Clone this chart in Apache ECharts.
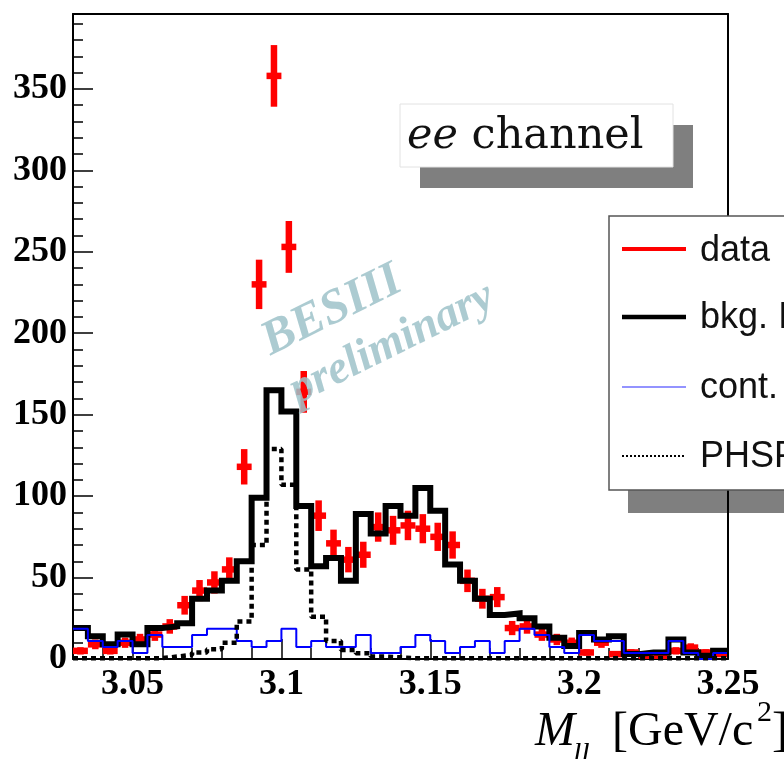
<!DOCTYPE html>
<html>
<head>
<meta charset="utf-8">
<script src="https://cdn.jsdelivr.net/npm/echarts@6/dist/echarts.min.js"></script>
<style>
  html, body { margin: 0; padding: 0; background: #ffffff; }
  #chart { width: 784px; height: 759px; }
</style>
</head>
<body>
<div id="chart"></div>
<script>
// Dilepton invariant mass, ee channel: 44 bins of 5 MeV/c^2 between 3.03 and 3.25 GeV/c^2
const binLow = 3.03;
const binWidth = 0.005;

// Observed events per bin
const dataCounts = [5, 9, 5, 10, 12, 15, 20, 33, 42, 47, 55, 118, 230, 358, 253, 164, 88, 71, 61, 64, 81, 79,
                    82, 80, 75, 70, 48, 37, 38, 19, 20, 15, 12, 10, 4, 10, 3, 4, 1, 1, 5, 7, 4, 3];
// Background from inclusive MC
const bkgMC = [19, 14, 9, 15, 9, 19, 20, 22, 37, 42, 48, 60, 99, 165, 152, 94, 57, 62, 48, 89, 77, 94,
               88, 105, 91, 58, 48, 37, 27, 28, 25, 20, 13, 8, 16, 12, 14, 3, 4, 4, 12, 4, 2, 5];
// Continuum data, scaled
const contData = [18.5, 11.1, 7.4, 11.1, 3.7, 14.8, 7.4, 7.4, 14.8, 18.5, 18.5, 11.1, 7.4, 11.1, 18.5, 7.4,
                  11.1, 7.4, 7.4, 14.8, 3.7, 3.7, 7.4, 14.8, 11.1, 3.7, 7.4, 11.1, 3.7, 11.1, 18.5, 14.8,
                  7.4, 3.7, 14.8, 11.1, 11.1, 3.7, 3.7, 3.7, 11.1, 3.7, 0, 3.7];
// Phase-space signal MC
const phspMC = [0.5, 0.5, 0.5, 0.5, 0.5, 0.5, 1.5, 2.5, 4, 6, 10, 23, 70, 129, 107, 55, 26, 11, 5.5, 3.5,
                1.5, 1, 0.5, 0.5, 0.5, 0.5, 0.5, 0.5, 0.5, 0.5, 0.5, 0.5, 0.5, 0.5, 0.5, 0.5, 0.5, 0.5,
                0.5, 0.5, 0.5, 0.5, 0.5, 0.5];

// Axis ticks and labels
const xMajorTicks = [3.05, 3.1, 3.15, 3.2, 3.25];
const xMinorTicks = [3.04, 3.06, 3.07, 3.08, 3.09, 3.11, 3.12, 3.13, 3.14, 3.16, 3.17, 3.18, 3.19,
                     3.21, 3.22, 3.23, 3.24];
const yMajorTicks = [0, 50, 100, 150, 200, 250, 300, 350];
const yMinorTicks = [10, 20, 30, 40, 60, 70, 80, 90, 110, 120, 130, 140, 160, 170, 180, 190, 210, 220,
                     230, 240, 260, 270, 280, 290, 310, 320, 330, 340, 360, 370, 380, 390];

const legendLabels = ['data', 'bkg. Inclusive MC', 'cont.', 'PHSP MC'];

// Step-histogram points: left edge of every bin, plus the closing right edge
function histPoints(values) {
  const pts = values.map(function (v, i) { return [binLow + binWidth * i, v]; });
  pts.push([binLow + binWidth * values.length, values[values.length - 1]]);
  return pts;
}
const dataPoints = dataCounts.map(function (n, i) { return [binLow + binWidth * (i + 0.5), n]; });

const chart = echarts.init(document.getElementById('chart'), null, { renderer: 'canvas' });

const frameLine = { show: true, onZero: false, lineStyle: { color: '#000', width: 2 } };
const tickFont = { color: '#000', fontFamily: 'Liberation Serif', fontWeight: 'bold', fontSize: 36 };

const option = {
  animation: false,
  backgroundColor: '#ffffff',
  grid: { left: 73, right: 56, top: 14, bottom: 100 },
  xAxis: [
    {
      type: 'value', position: 'bottom', min: 3.03, max: 3.25,
      axisLine: frameLine,
      axisTick: { show: true, inside: true, length: 20, customValues: xMajorTicks,
                  lineStyle: { color: '#000', width: 1.5 } },
      axisLabel: Object.assign({ show: true, customValues: xMajorTicks, margin: 8 }, tickFont),
      splitLine: { show: false }
    },
    {
      type: 'value', position: 'bottom', min: 3.03, max: 3.25,
      axisLine: { show: false, onZero: false },
      axisTick: { show: true, inside: true, length: 11, customValues: xMinorTicks,
                  lineStyle: { color: '#000', width: 1.5 } },
      axisLabel: { show: false },
      splitLine: { show: false }
    },
    {
      type: 'value', position: 'top', min: 3.03, max: 3.25,
      axisLine: frameLine,
      axisTick: { show: false }, axisLabel: { show: false }, splitLine: { show: false }
    }
  ],
  yAxis: [
    {
      type: 'value', position: 'left', min: 0, max: 396,
      axisLine: frameLine,
      axisTick: { show: true, inside: true, length: 20, customValues: yMajorTicks,
                  lineStyle: { color: '#000', width: 1.5 } },
      axisLabel: Object.assign({ show: true, customValues: yMajorTicks, margin: 6 }, tickFont),
      splitLine: { show: false }
    },
    {
      type: 'value', position: 'left', min: 0, max: 396,
      axisLine: { show: false, onZero: false },
      axisTick: { show: true, inside: true, length: 10, customValues: yMinorTicks,
                  lineStyle: { color: '#000', width: 1.5 } },
      axisLabel: { show: false },
      splitLine: { show: false }
    },
    {
      type: 'value', position: 'right', min: 0, max: 396, z: 6,
      axisLine: frameLine,
      axisTick: { show: false }, axisLabel: { show: false }, splitLine: { show: false }
    }
  ],
  series: [
    {
      name: legendLabels[0],
      type: 'custom',
      xAxisIndex: 0, yAxisIndex: 0,
      clip: true,
      z: 2,
      data: dataPoints,
      renderItem: function (params, api) {
        const x = api.value(0);
        const n = api.value(1);
        const err = Math.sqrt(n);
        const top = api.coord([x, n + err]);
        const bot = api.coord([x, Math.max(n - err, 0)]);
        const left = api.coord([x - binWidth / 2, n]);
        const right = api.coord([x + binWidth / 2, n]);
        const st = { stroke: '#ff0000', lineWidth: 6.5 };
        return {
          type: 'group',
          children: [
            { type: 'line', shape: { x1: top[0], y1: top[1], x2: bot[0], y2: bot[1] }, style: st },
            { type: 'line', shape: { x1: left[0], y1: left[1], x2: right[0], y2: right[1] }, style: st }
          ]
        };
      }
    },
    {
      name: legendLabels[1], type: 'line', step: 'end', symbol: 'none', z: 3,
      xAxisIndex: 0, yAxisIndex: 0,
      data: histPoints(bkgMC),
      lineStyle: { color: '#000000', width: 6, join: 'miter' }
    },
    {
      name: legendLabels[2], type: 'line', step: 'end', symbol: 'none', z: 4,
      xAxisIndex: 0, yAxisIndex: 0,
      data: histPoints(contData),
      lineStyle: { color: '#0000ff', width: 2 }
    },
    {
      name: legendLabels[3], type: 'line', step: 'end', symbol: 'none', z: 5,
      xAxisIndex: 0, yAxisIndex: 0,
      data: histPoints(phspMC),
      lineStyle: { color: '#000000', width: 4.5, type: [5, 4] }
    }
  ],
  graphic: [
    // channel tag
    { type: 'rect', z: 20, shape: { x: 420, y: 125, width: 273, height: 63 }, style: { fill: '#7f7f7f' } },
    { type: 'rect', z: 21, shape: { x: 400, y: 104, width: 273, height: 63 },
      style: { fill: '#ffffff', stroke: '#e2e2e2', lineWidth: 1 } },
    { type: 'text', z: 22, x: 407, y: 137,
      style: { text: '{i|ee} channel', fill: '#111', font: '43px "DejaVu Serif"',
               textAlign: 'left', textVerticalAlign: 'middle',
               rich: { i: { fontStyle: 'italic', fontFamily: 'DejaVu Serif', fontSize: 43, fill: '#111' } } } },

    // legend box
    { type: 'rect', z: 4, shape: { x: 628, y: 239, width: 200, height: 274 }, style: { fill: '#7f7f7f' } },
    { type: 'rect', z: 20, shape: { x: 609, y: 216, width: 200, height: 274 },
      style: { fill: '#ffffff', stroke: '#555555', lineWidth: 1.5 } },
    { type: 'line', z: 21, shape: { x1: 622, y1: 249, x2: 686, y2: 249 }, style: { stroke: '#ff0000', lineWidth: 4 } },
    { type: 'line', z: 21, shape: { x1: 622, y1: 317, x2: 686, y2: 317 }, style: { stroke: '#000000', lineWidth: 4.5 } },
    { type: 'line', z: 21, shape: { x1: 622, y1: 387, x2: 686, y2: 387 }, style: { stroke: '#6f6fff', lineWidth: 1.5 } },
    { type: 'line', z: 21, shape: { x1: 622, y1: 456, x2: 684, y2: 456 },
      style: { stroke: '#000000', lineWidth: 2, lineDash: [2, 2] } },
    { type: 'text', z: 21, x: 700, y: 251,
      style: { text: legendLabels[0], fill: '#111', font: '36px "Liberation Sans"', textVerticalAlign: 'middle' } },
    { type: 'text', z: 21, x: 700, y: 318,
      style: { text: legendLabels[1], fill: '#111', font: '36px "Liberation Sans"', textVerticalAlign: 'middle' } },
    { type: 'text', z: 21, x: 700, y: 388,
      style: { text: legendLabels[2], fill: '#111', font: '36px "Liberation Sans"', textVerticalAlign: 'middle' } },
    { type: 'text', z: 21, x: 700, y: 457,
      style: { text: legendLabels[3], fill: '#111', font: '36px "Liberation Sans"', textVerticalAlign: 'middle' } },

    // collaboration watermark
    { type: 'text', z: 30, x: 332, y: 311, rotation: 0.46,
      style: { text: 'BESIII', fill: '#9ec2c9', opacity: 0.85, font: 'italic bold 49px "Liberation Serif"',
               textAlign: 'center', textVerticalAlign: 'middle' } },
    { type: 'text', z: 30, x: 392, y: 344, rotation: 0.46,
      style: { text: 'preliminary', fill: '#9ec2c9', opacity: 0.85, font: 'italic bold 46px "Liberation Serif"',
               textAlign: 'center', textVerticalAlign: 'middle' } },

    // x-axis title: M_ll [GeV/c^2]
    { type: 'text', z: 10, x: 535, y: 732,
      style: { text: 'M', fill: '#000', font: 'italic 48px "Liberation Serif"', textVerticalAlign: 'middle' } },
    { type: 'text', z: 10, x: 573, y: 755,
      style: { text: 'll', fill: '#000', font: 'italic 30px "Liberation Serif"', textVerticalAlign: 'middle' } },
    { type: 'text', z: 10, x: 612, y: 732,
      style: { text: '[GeV/c', fill: '#000', font: '48px "Liberation Serif"', textVerticalAlign: 'middle' } },
    { type: 'text', z: 10, x: 757, y: 713,
      style: { text: '2', fill: '#000', font: '30px "Liberation Serif"', textVerticalAlign: 'middle' } },
    { type: 'text', z: 10, x: 772, y: 732,
      style: { text: ']', fill: '#000', font: '48px "Liberation Serif"', textVerticalAlign: 'middle' } }
  ]
};

chart.setOption(option);
</script>
</body>
</html>
